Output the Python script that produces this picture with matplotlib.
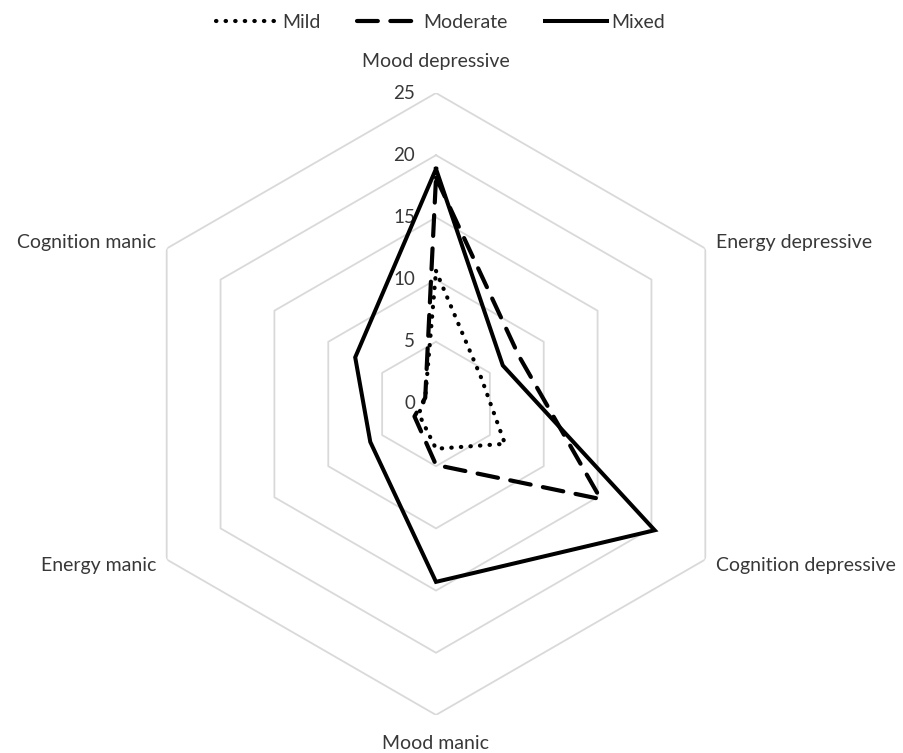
import numpy as np
import matplotlib
matplotlib.use('Agg')
import matplotlib.pyplot as plt

categories = ['Mood depressive', 'Energy depressive', 'Cognition depressive',
              'Mood manic', 'Energy manic', 'Cognition manic']
mild = [10.7, 4.2, 6.4, 3.6, 1.6, 1.0]
moderate = [18.2, 7.7, 15.3, 4.9, 2.0, 1.0]
mixed = [18.9, 6.2, 20.3, 14.3, 6.1, 7.5]
rings = [5, 10, 15, 20, 25]
ring_labels = ['0', '5', '10', '15', '20', '25']

plt.rcParams['font.family'] = ['Lato', 'DejaVu Sans']
txt = '#383838'
grid = '#d9d9d9'

fig = plt.figure(figsize=(9.04, 7.53), dpi=100)
ax = fig.add_axes([0.1383, 0.0505, 0.688, 0.826], projection='polar')
ax.set_theta_offset(np.pi / 2)
ax.set_theta_direction(-1)

n = len(categories)
ang = np.linspace(0, 2 * np.pi, n, endpoint=False)
ang_c = np.append(ang, ang[0])

# hexagon grid
for r in rings:
    ax.plot(ang_c, [r] * (n + 1), color=grid, lw=1.3, zorder=1)

def closed(v):
    return list(v) + [v[0]]

l1, = ax.plot(ang_c, closed(mild), color='black', lw=3.0,
              linestyle=(0, (0.1, 2.2)), dash_capstyle='round', label='Mild', zorder=3)
l2, = ax.plot(ang_c, closed(moderate), color='black', lw=3.0,
              linestyle=(0, (5.0, 3.0)), dash_capstyle='round', label='Moderate', zorder=3)
l3, = ax.plot(ang_c, closed(mixed), color='black', lw=2.9,
              solid_joinstyle='miter', label='Mixed', zorder=4)

ax.set_ylim(0, 25)
ax.grid(False)
ax.set_xticks([])
ax.set_yticks([])
ax.spines['polar'].set_visible(False)
ax.patch.set_visible(False)

# radial value labels along the top axis
for i, lab in enumerate(ring_labels):
    ax.annotate(lab, xy=(0, i * 5), xytext=(-15, 0), textcoords='offset points',
                ha='right', va='center', fontsize=13.5, color=txt, annotation_clip=False)

# category labels
pos = [(27.5, 'center'), (26.0, 'left'), (26.0, 'left'),
       (27.3, 'center'), (26.0, 'right'), (26.0, 'right')]
for a, lab, (r, ha) in zip(ang, categories, pos):
    ax.text(a, r, lab, ha=ha, va='center', fontsize=14, color=txt)

fig.legend(handles=[l1, l2, l3], loc='upper center', bbox_to_anchor=(0.487, 1.005),
           ncol=3, frameon=False, fontsize=14, handlelength=3.2, columnspacing=1.9,
           handletextpad=0.2, labelcolor=txt)

fig.savefig('out.png', dpi=100)
